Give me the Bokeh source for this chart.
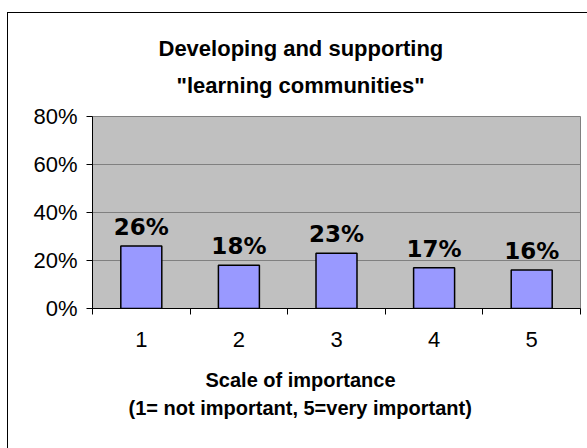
from bokeh.plotting import figure
from bokeh.models import (Range1d, FixedTicker, NumeralTickFormatter, ColumnDataSource, Title)
from bokeh.core.properties import value
from bokeh.embed import file_html
from bokeh.resources import INLINE

# ---- data ----
categories = [1, 2, 3, 4, 5]
category_labels = ["1", "2", "3", "4", "5"]
values = [0.26, 0.18, 0.23, 0.17, 0.16]
value_labels = ["26%", "18%", "23%", "17%", "16%"]
y_ticks = [0, 0.2, 0.4, 0.6, 0.8]
title_lines = ["Developing and supporting", '"learning communities"']
x_title_lines = ["Scale of importance", "(1= not important, 5=very important)"]

src = ColumnDataSource(dict(x=categories, top=values, lab=value_labels))

p = figure(width=587, height=448, output_backend="svg", toolbar_location=None,
           x_range=Range1d(0.5, 5.5), y_range=Range1d(0, 0.8),
           min_border_left=92, min_border_right=7, min_border_top=116,
           min_border_bottom=140)
p.title = None

p.background_fill_color = "#C0C0C0"
p.border_fill_color = "white"
p.border_fill_alpha = 0
p.outline_line_color = "#808080"
p.outline_line_width = 1

# outer chart-area frame (drawn by CSS, outside the plot area)
p.stylesheets = [":host::after { content: ''; position: absolute; left: 7px; top: 12px; "
                 "width: 700px; height: 700px; border-left: 1.5px solid black; "
                 "border-top: 1.5px solid black; pointer-events: none; }"
                 ":host { position: relative; overflow: hidden; background: white; }"]

p.vbar(x="x", top="top", width=0.42, source=src, fill_color="#9999FF",
       line_color="black", line_width=1.5)

p.text(x="x", y="top", text="lab", source=src, text_align="center",
       text_baseline="alphabetic", y_offset=-19, text_font_size="23px",
       text_font_style="bold", text_color="black",
       text_font=value("DejaVu Sans"))

# y axis
p.yaxis.ticker = FixedTicker(ticks=y_ticks)
p.yaxis.formatter = NumeralTickFormatter(format="0%")
p.yaxis.major_label_text_font = "Liberation Sans"
p.yaxis.major_label_text_font_size = "22px"
p.yaxis.major_label_text_color = "black"
p.yaxis.major_tick_out = 6
p.yaxis.major_tick_in = 0
p.yaxis.minor_tick_out = 0
p.yaxis.major_label_standoff = 9
p.yaxis.axis_line_color = "black"

# x axis
p.xaxis.ticker = FixedTicker(ticks=categories,
                             minor_ticks=[0.5, 1.5, 2.5, 3.5, 4.5, 5.5])
p.xaxis.major_label_overrides = {c: l for c, l in zip(categories, category_labels)}
p.xaxis.major_tick_out = 0
p.xaxis.major_tick_in = 0
p.xaxis.minor_tick_out = 6
p.xaxis.minor_tick_in = 0
p.xaxis.major_label_standoff = 17
p.xaxis.major_label_text_font = "Liberation Sans"
p.xaxis.major_label_text_font_size = "22px"
p.xaxis.major_label_text_color = "black"
p.xaxis.axis_line_color = "black"

p.xgrid.visible = False
p.ygrid.ticker = FixedTicker(ticks=y_ticks)
p.ygrid.grid_line_color = "#808080"
p.ygrid.grid_line_width = 1

def ttl(text, size, offset, standoff, valign):
    return Title(text=text, align="left", offset=offset, standoff=standoff,
                 vertical_align=valign, text_font="Liberation Sans",
                 text_font_size=size, text_font_style="bold", text_color="black")

# above: spacer nearest the frame, then line 2, then line 1
p.add_layout(ttl(" ", "11px", 0, 0, "bottom"), "above")
p.add_layout(ttl(title_lines[1], "22px", 84, 10, "bottom"), "above")
p.add_layout(ttl(title_lines[0], "22px", 66, 10, "bottom"), "above")

# below: spacer under the axis, then line 1, then line 2
p.add_layout(ttl(" ", "13px", 0, 0, "top"), "below")
p.add_layout(ttl(x_title_lines[0], "20px", 113, 4, "top"), "below")
p.add_layout(ttl(x_title_lines[1], "20px", 36, 4, "top"), "below")

open("out.html", "w").write(file_html(p, INLINE))
